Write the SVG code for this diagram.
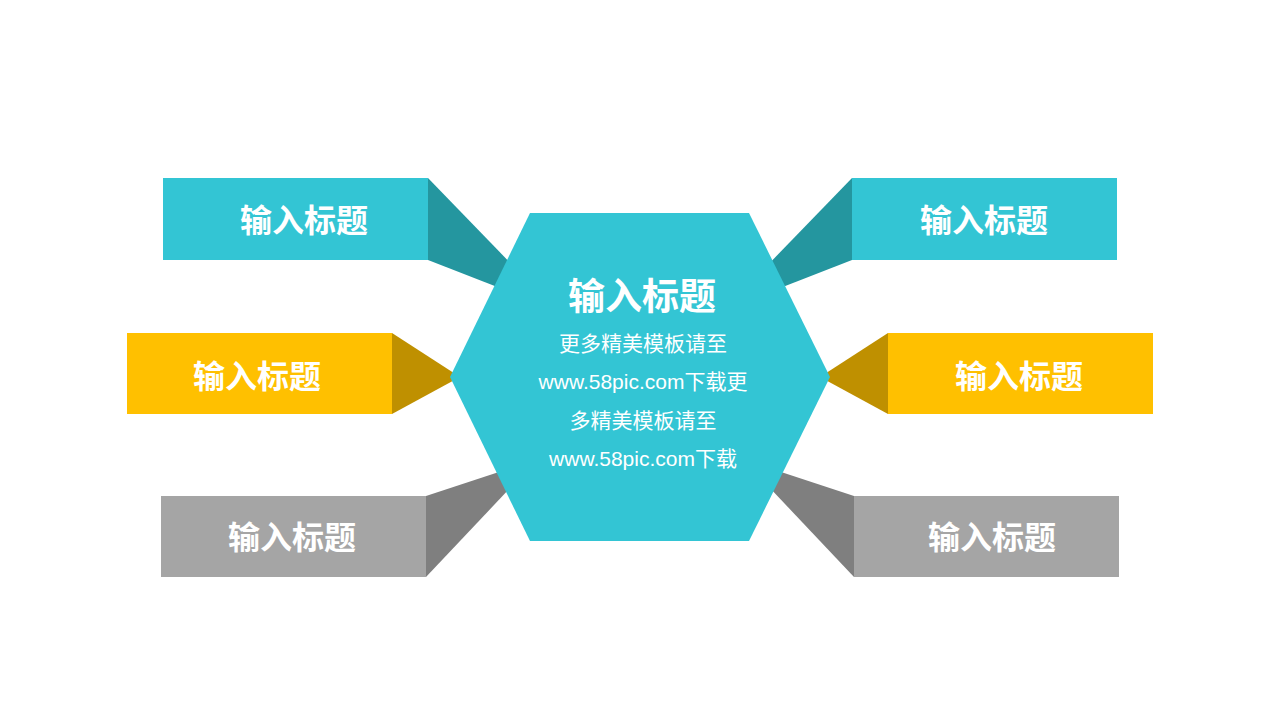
<svg xmlns="http://www.w3.org/2000/svg" width="1280" height="720" viewBox="0 0 1280 720">
<style>
.teal{fill:#33C5D4}
.dteal{fill:#24969F}
.yel{fill:#FFC000}
.dyel{fill:#BF9000}
.gry{fill:#A5A5A5}
.dgry{fill:#7F7F7F}
.lbl{font-family:"Liberation Sans","Noto Sans CJK SC",sans-serif;font-weight:bold;font-size:32px;fill:#fff;text-anchor:middle}
.ttl{font-family:"Liberation Sans","Noto Sans CJK SC",sans-serif;font-weight:bold;font-size:37px;fill:#fff;text-anchor:middle}
.body{font-family:"Liberation Sans","Noto Sans CJK SC",sans-serif;font-size:21px;fill:#fff;text-anchor:middle}
</style>
<rect width="1280" height="720" fill="#fff"/>
<g id="connectors">
<polygon class="dteal" points="428,178 520,273 505,290 428,260"/>
<polygon class="dyel" points="392,333 460,377 392,414"/>
<polygon class="dgry" points="426,496 505,470 512,486 426,577"/>
<polygon class="dteal" points="852,178 760,273 775,290 852,260"/>
<polygon class="dyel" points="888,333 820,377 888,414"/>
<polygon class="dgry" points="854,496 775,470 768,486 854,577"/>
</g>
<g id="node-tl"><rect class="teal" x="163" y="178" width="265" height="82"/><text class="lbl" x="304" y="232">输入标题</text></g>
<g id="node-ml"><rect class="yel" x="127" y="333" width="265" height="81"/><text class="lbl" x="257" y="388">输入标题</text></g>
<g id="node-bl"><rect class="gry" x="161" y="496" width="265" height="81"/><text class="lbl" x="292" y="549">输入标题</text></g>
<g id="node-tr"><rect class="teal" x="852" y="178" width="265" height="82"/><text class="lbl" x="984" y="232">输入标题</text></g>
<g id="node-mr"><rect class="yel" x="888" y="333" width="265" height="81"/><text class="lbl" x="1019" y="388">输入标题</text></g>
<g id="node-br"><rect class="gry" x="854" y="496" width="265" height="81"/><text class="lbl" x="992" y="549">输入标题</text></g>
<g id="node-center">
<polygon class="teal" points="530,213 749,213 830,377 749,541 530,541 450,377"/>
<text class="ttl" x="642" y="310">输入标题</text>
<text class="body" x="643" y="351">更多精美模板请至</text>
<text class="body" x="643" y="389">www.58pic.com下载更</text>
<text class="body" x="643" y="428">多精美模板请至</text>
<text class="body" x="643" y="466">www.58pic.com下载</text>
</g>
</svg>
